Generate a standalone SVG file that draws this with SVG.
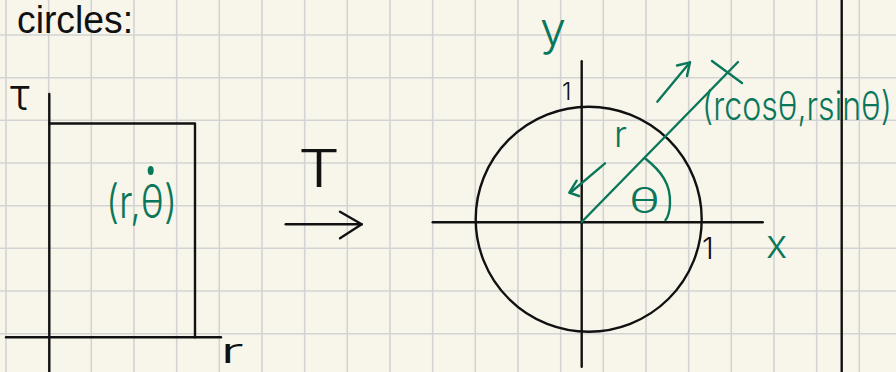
<svg xmlns="http://www.w3.org/2000/svg" width="896" height="372" viewBox="0 0 896 372">
<style>
.grid line{stroke:#d3d3d3;stroke-width:1.6}
.ink{stroke:#111;stroke-width:2.4;fill:none;stroke-linecap:round;stroke-linejoin:round}
.g{stroke:#0b775a;stroke-width:2.4;fill:none;stroke-linecap:round;stroke-linejoin:round}
.tb{font-family:"Liberation Sans",Arial,sans-serif;fill:#111}
.hb{font-family:Inter,"Liberation Sans",sans-serif;font-weight:300;fill:#111}
.hg{font-family:Inter,"Liberation Sans",sans-serif;font-weight:300;fill:#0b775a}
</style>
<rect width="896" height="372" fill="#f8f6eb"/>
<g class="grid" id="grid">
<line x1="6" y1="0" x2="6" y2="372"/><line x1="48.7" y1="0" x2="48.7" y2="372"/><line x1="91.3" y1="0" x2="91.3" y2="372"/><line x1="134" y1="0" x2="134" y2="372"/><line x1="176.7" y1="0" x2="176.7" y2="372"/><line x1="219.3" y1="0" x2="219.3" y2="372"/><line x1="262" y1="0" x2="262" y2="372"/><line x1="304.7" y1="0" x2="304.7" y2="372"/><line x1="347.3" y1="0" x2="347.3" y2="372"/><line x1="390" y1="0" x2="390" y2="372"/><line x1="432.7" y1="0" x2="432.7" y2="372"/><line x1="475.3" y1="0" x2="475.3" y2="372"/><line x1="518" y1="0" x2="518" y2="372"/><line x1="560.7" y1="0" x2="560.7" y2="372"/><line x1="603.3" y1="0" x2="603.3" y2="372"/><line x1="646" y1="0" x2="646" y2="372"/><line x1="688.7" y1="0" x2="688.7" y2="372"/><line x1="731.3" y1="0" x2="731.3" y2="372"/><line x1="774" y1="0" x2="774" y2="372"/><line x1="816.7" y1="0" x2="816.7" y2="372"/><line x1="859.3" y1="0" x2="859.3" y2="372"/>
<line x1="0" y1="35" x2="896" y2="35"/><line x1="0" y1="77.7" x2="896" y2="77.7"/><line x1="0" y1="120.3" x2="896" y2="120.3"/><line x1="0" y1="163" x2="896" y2="163"/><line x1="0" y1="205.7" x2="896" y2="205.7"/><line x1="0" y1="248.3" x2="896" y2="248.3"/><line x1="0" y1="291" x2="896" y2="291"/><line x1="0" y1="333.7" x2="896" y2="333.7"/>
</g>
<line class="ink" x1="841.7" y1="0" x2="841.7" y2="372"/>
<text class="tb" x="17" y="33" font-size="38" textLength="116" lengthAdjust="spacingAndGlyphs">circles:</text>
<g id="rect-domain">
<line class="ink" x1="49.3" y1="94" x2="49.3" y2="372"/>
<line class="ink" x1="6" y1="337.3" x2="221" y2="337.3"/>
<polyline class="ink" points="49.3,123.5 195,123.5 195,337.3"/>
<text class="hb" x="10" y="110" font-size="44">τ</text>
<text class="hb" x="220" y="363" font-size="34" textLength="24" lengthAdjust="spacingAndGlyphs">r</text>
<text class="hg" x="106" y="218" font-size="46" textLength="71" lengthAdjust="spacingAndGlyphs">(r,θ)</text>
<ellipse cx="150.7" cy="170.5" rx="3" ry="4.5" fill="#0b775a"/>
</g>
<g id="connectors">
<line class="ink" x1="285.7" y1="224.3" x2="361.7" y2="224.3"/>
<polyline class="ink" points="340,211.7 361.7,224.3 340,238.3"/>
</g>
<text class="hb" x="298" y="187" font-size="52" textLength="42" lengthAdjust="spacingAndGlyphs">T</text>
<g id="circle-plane">
<line class="ink" x1="432.7" y1="222.3" x2="762.7" y2="222.3"/>
<line class="ink" x1="581.7" y1="61.3" x2="581.7" y2="366.7"/>
<ellipse class="ink" cx="588.7" cy="219.2" rx="113" ry="112.5"/>
<text class="hb" x="562" y="100" font-size="24">1</text>
<text class="hb" x="702" y="259" font-size="30">1</text>
<text class="hg" x="540" y="45" font-size="46" textLength="26" lengthAdjust="spacingAndGlyphs">y</text>
<text class="hg" x="766" y="258" font-size="40">x</text>
</g>
<g id="polar-point">
<line class="g" x1="581.7" y1="222" x2="738" y2="62"/>
<line class="g" x1="712" y1="61" x2="742" y2="83"/>
<line class="g" x1="657.3" y1="101.7" x2="690" y2="62.3"/>
<polyline class="g" points="677,65.5 690,62.3 687,76"/>
<line class="g" x1="605" y1="163.3" x2="570" y2="193"/>
<polyline class="g" points="576.7,180.7 569.3,192.7 579,196"/>
<path class="g" d="M645,158.3 C661,171 671,184 670,204 Q669.5,215 665.5,220"/>
<text class="hg" x="614" y="147" font-size="36">r</text>
<text class="hg" x="629" y="213" font-size="35" textLength="31" lengthAdjust="spacingAndGlyphs">θ</text>
<text class="hg" x="0" y="0" transform="translate(702,120) scale(1,1.2)" font-size="33" textLength="190" lengthAdjust="spacingAndGlyphs">(rcosθ,rsinθ)</text>
</g>
</svg>
